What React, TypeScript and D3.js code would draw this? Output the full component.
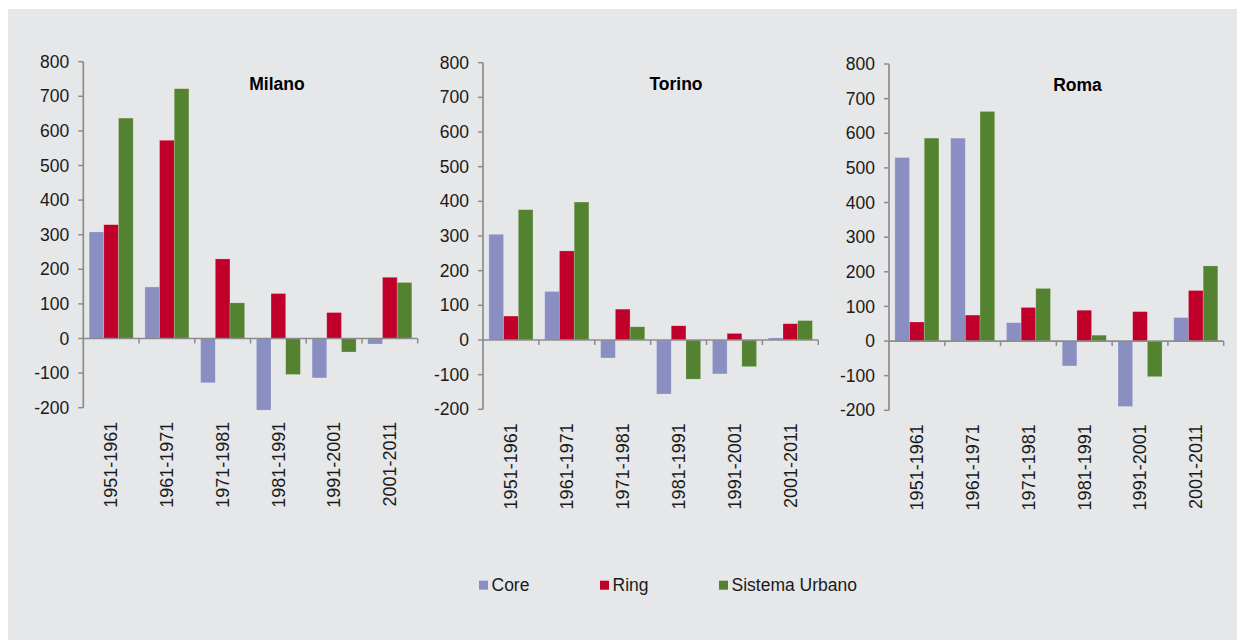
import React from "react";
import * as d3 from "d3";

const periods = ["1951-1961", "1961-1971", "1971-1981", "1981-1991", "1991-2001", "2001-2011"];
const seriesNames = ["Core", "Ring", "Sistema Urbano"];
const seriesColors = ["#8a8fc2", "#c0002b", "#538231"];
const yTicks = [-200, -100, 0, 100, 200, 300, 400, 500, 600, 700, 800];

const milanoCore = [308, 149, -128, -207, -114, -16];
const milanoRing = [329, 573, 230, 130, 75, 177];
const milanoSistema = [637, 722, 103, -104, -39, 162];

const torinoCore = [305, 140, -52, -156, -98, 6];
const torinoRing = [69, 257, 89, 41, 19, 47];
const torinoSistema = [376, 398, 38, -113, -77, 56];

const romaCore = [530, 586, 53, -72, -189, 68];
const romaRing = [55, 75, 97, 89, 85, 146];
const romaSistema = [586, 663, 152, 17, -103, 217];

const panels = [
  { title: "Milano", series: [milanoCore, milanoRing, milanoSistema], x0: 83.3, x1: 417.7, yTop: 61.7, yBot: 407.7, tx: 277, ty: 84 },
  { title: "Torino", series: [torinoCore, torinoRing, torinoSistema], x0: 483, x1: 818.3, yTop: 62.7, yBot: 409.3, tx: 676, ty: 84 },
  { title: "Roma", series: [romaCore, romaRing, romaSistema], x0: 889, x1: 1223.7, yTop: 64, yBot: 410.3, tx: 1077.5, ty: 85 },
];

const FONT = "'Liberation Sans', Arial, sans-serif";
const AXIS = "#8c8c8c";

function Panel({ p }: { p: (typeof panels)[number] }) {
  const y = d3.scaleLinear().domain([-200, 800]).range([p.yBot, p.yTop]);
  const x = d3.scaleBand<string>().domain(periods).range([p.x0, p.x1]).paddingInner(0).paddingOuter(0);
  const bw = x.bandwidth();
  const pad = bw * 0.105;
  const xs = d3.scaleBand<string>().domain(seriesNames).range([pad, bw - pad]).padding(0);
  const y0 = y(0);
  return (
    <g>
      {p.series.map((vals, si) =>
        vals.map((v, i) => {
          const bx = (x(periods[i]) as number) + (xs(seriesNames[si]) as number);
          const top = Math.min(y(v), y0);
          const h = Math.abs(y(v) - y0);
          return (
            <rect key={`${si}-${i}`} x={bx} y={top} width={xs.bandwidth()} height={h}
              fill={seriesColors[si]} stroke="rgba(255,255,255,0.35)" strokeWidth={0.6} />
          );
        })
      )}
      <line x1={p.x0} x2={p.x0} y1={p.yTop} y2={p.yBot} stroke={AXIS} strokeWidth={1.7} />
      {yTicks.map((t) => (
        <g key={t}>
          <line x1={p.x0 - 5} x2={p.x0} y1={y(t)} y2={y(t)} stroke={AXIS} strokeWidth={1.5} />
          <text x={p.x0 - 14} y={y(t)} dy="0.35em" textAnchor="end" fontSize={17.5} fontFamily={FONT} fill="#1a1a1a">
            {t}
          </text>
        </g>
      ))}
      <line x1={p.x0} x2={p.x1} y1={y0} y2={y0} stroke={AXIS} strokeWidth={1.7} />
      {periods.map((c) => (
        <line key={c} x1={(x(c) as number) + bw} x2={(x(c) as number) + bw} y1={y0} y2={y0 + 5} stroke={AXIS} strokeWidth={1.5} />
      ))}
      {periods.map((c) => {
        const cx = (x(c) as number) + bw / 2;
        const ly = p.yBot + 14;
        return (
          <text key={c} transform={`translate(${cx},${ly}) rotate(-90)`} textAnchor="end" dy="0.35em"
            fontSize={18} fontFamily={FONT} fill="#1a1a1a">
            {c}
          </text>
        );
      })}
      <text x={p.tx} y={p.ty} dy="0.35em" textAnchor="middle" fontSize={17.5} fontWeight="bold" fontFamily={FONT} fill="#000">
        {p.title}
      </text>
    </g>
  );
}

export default function App() {
  const legendX = [479, 600, 719];
  return (
    <svg width={1240} height={640} style={{ position: "absolute", left: 0, top: 0 }}>
      <rect x={0} y={0} width={1240} height={640} fill="#ffffff" />
      <rect x={8} y={9} width={1229} height={631} fill="#e6e7e9" />
      {panels.map((p) => (
        <Panel key={p.title} p={p} />
      ))}
      {seriesNames.map((s, i) => (
        <g key={s}>
          <rect x={legendX[i]} y={580.7} width={9} height={9} fill={seriesColors[i]} />
          <text x={legendX[i] + 12.5} y={585.2} dy="0.35em" fontSize={17.5} fontFamily={FONT} fill="#1a1a1a">
            {s}
          </text>
        </g>
      ))}
    </svg>
  );
}
